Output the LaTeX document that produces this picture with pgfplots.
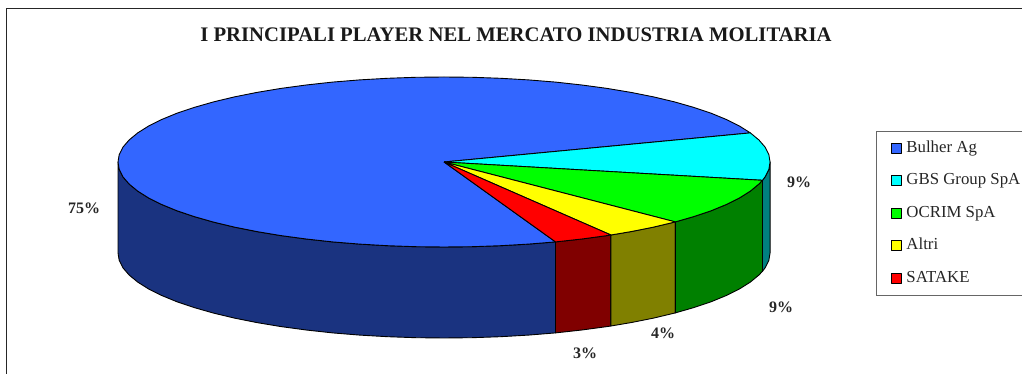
\documentclass[border=0pt]{standalone}
\usepackage{fontspec}
\setmainfont{Liberation Serif}
\usepackage{pgfplots}
\pgfplotsset{compat=1.18}
\definecolor{blueTop}{RGB}{51,102,255}
\definecolor{cyanTop}{RGB}{0,255,255}
\definecolor{greenTop}{RGB}{0,255,0}
\definecolor{yellowTop}{RGB}{255,255,0}
\definecolor{redTop}{RGB}{255,0,0}
\definecolor{blueWall}{RGB}{26,51,128}
\definecolor{cyanWall}{RGB}{0,128,128}
\definecolor{greenWall}{RGB}{0,128,0}
\definecolor{yellowWall}{RGB}{128,128,0}
\definecolor{redWall}{RGB}{128,0,0}
\pgfplotsset{slice/.style={draw=black, line width=0.9pt, line join=round, fill=#1}}
\tikzset{pct/.style={font=\fontsize{16}{18}\selectfont\bfseries, text=black!85}}
\begin{document}
\begin{tikzpicture}
\path[use as bounding box] (0,0) rectangle (1022pt,374pt);
\begin{axis}[
  at={(0,0)}, anchor=south west,
  width=1022pt, height=374pt, scale only axis,
  hide axis, clip=false,
  xmin=-444, xmax=578, ymin=-212, ymax=162,
  legend image code/.code={\draw[#1] (0pt,-5pt) rectangle (10pt,5pt); \path (0pt,0pt) (13pt,0pt);},
  legend cell align=left,
  legend style={at={(axis cs:432,31.3)}, anchor=north west, draw=black!60, line width=1pt,
    inner xsep=14pt, inner ysep=8pt, row sep=14pt, font=\fontsize{16.8}{19}\selectfont,
    nodes={text height=11pt, text depth=3.5pt, inner ysep=2pt, text=black!85}},
]
% Chart frame: only its top and left edges lie on the page
\addplot[forget plot, draw=black!85, line width=1.1pt] coordinates {(-437.5,-212) (-437.5,153.5) (578,153.5)};

% Outer walls of the pie, front half of the rim, seen from above
\addplot[forget plot, slice=blueWall] coordinates {
  (-326,0) (-324.8,-7.4) (-321.1,-14.8) (-314.9,-22) (-306.3,-29.1) (-295.5,-35.9) (-282.3,-42.5)
  (-267,-48.8) (-249.7,-54.6) (-230.5,-60.1) (-209.6,-65.1) (-187,-69.6) (-163,-73.6) (-137.8,-77)
  (-111.5,-79.9) (-84.4,-82.1) (-56.6,-83.7) (-28.4,-84.7) (0,-85) (28.4,-84.7) (56.6,-83.7)
  (84.4,-82.1) (111.5,-79.9)
  (111.5,-170.9) (84.4,-173.1) (56.6,-174.7) (28.4,-175.7) (0,-176) (-28.4,-175.7) (-56.6,-174.7)
  (-84.4,-173.1) (-111.5,-170.9) (-137.8,-168) (-163,-164.6) (-187,-160.6) (-209.6,-156.1)
  (-230.5,-151.1) (-249.7,-145.6) (-267,-139.8) (-282.3,-133.5) (-295.5,-126.9) (-306.3,-120.1)
  (-314.9,-113) (-321.1,-105.8) (-324.8,-98.4) (-326,-91) (-326,0)};
\addplot[forget plot, slice=redWall] coordinates {
  (111.5,-79.9) (137.8,-77) (163,-73.6) (166.9,-73)
  (166.9,-164) (163,-164.6) (137.8,-168) (111.5,-170.9) (111.5,-79.9)};
\addplot[forget plot, slice=yellowWall] coordinates {
  (166.9,-73) (187,-69.6) (209.6,-65.1) (231.3,-59.9)
  (231.3,-150.9) (209.6,-156.1) (187,-160.6) (166.9,-164) (166.9,-73)};
\addplot[forget plot, slice=greenWall] coordinates {
  (231.3,-59.9) (249.7,-54.6) (267,-48.8) (282.3,-42.5) (295.5,-35.9) (306.3,-29.1) (314.9,-22) (318.4,-18.3)
  (318.4,-109.3) (314.9,-113) (306.3,-120.1) (295.5,-126.9) (282.3,-133.5) (267,-139.8) (249.7,-145.6) (231.3,-150.9) (231.3,-59.9)};
\addplot[forget plot, slice=cyanWall] coordinates {
  (318.4,-18.3) (321.1,-14.8) (324.8,-7.4) (326,0)
  (326,-91) (324.8,-98.4) (321.1,-105.8) (318.4,-109.3) (318.4,-18.3)};

% Top faces: 75, 9, 9, 4 and 3 per cent of the turn, clockwise from 20 degrees
\addplot[slice=blueTop] coordinates {
  (0,0) (111.5,-79.9) (84.4,-82.1) (56.6,-83.7) (28.4,-84.7) (0,-85) (-28.4,-84.7) (-56.6,-83.7)
  (-84.4,-82.1) (-111.5,-79.9) (-137.8,-77) (-163,-73.6) (-187,-69.6) (-209.6,-65.1) (-230.5,-60.1)
  (-249.7,-54.6) (-267,-48.8) (-282.3,-42.5) (-295.5,-35.9) (-306.3,-29.1) (-314.9,-22) (-321.1,-14.8)
  (-324.8,-7.4) (-326,0) (-324.8,7.4) (-321.1,14.8) (-314.9,22) (-306.3,29.1) (-295.5,35.9) (-282.3,42.5)
  (-267,48.8) (-249.7,54.6) (-230.5,60.1) (-209.6,65.1) (-187,69.6) (-163,73.6) (-137.8,77) (-111.5,79.9)
  (-84.4,82.1) (-56.6,83.7) (-28.4,84.7) (0,85) (28.4,84.7) (56.6,83.7) (84.4,82.1) (111.5,79.9)
  (137.8,77) (163,73.6) (187,69.6) (209.6,65.1) (230.5,60.1) (249.7,54.6) (267,48.8) (282.3,42.5)
  (295.5,35.9) (306.3,29.1) (0,0)};
\addlegendentry{Bulher Ag}
\addplot[slice=cyanTop] coordinates {
  (0,0) (306.3,29.1) (314.9,22) (321.1,14.8) (324.8,7.4) (326,0) (324.8,-7.4) (321.1,-14.8) (318.4,-18.3) (0,0)};
\addlegendentry{GBS Group SpA}
\addplot[slice=greenTop] coordinates {
  (0,0) (318.4,-18.3) (314.9,-22) (306.3,-29.1) (295.5,-35.9) (282.3,-42.5) (267,-48.8) (249.7,-54.6) (231.3,-59.9) (0,0)};
\addlegendentry{OCRIM SpA}
\addplot[slice=yellowTop] coordinates {
  (0,0) (231.3,-59.9) (209.6,-65.1) (187,-69.6) (166.9,-73) (0,0)};
\addlegendentry{Altri}
\addplot[slice=redTop] coordinates {
  (0,0) (166.9,-73) (163,-73.6) (137.8,-77) (111.5,-79.9) (0,0)};
\addlegendentry{SATAKE}

% Title and percentage labels beside the slices
\node[font=\fontsize{20.7}{23}\selectfont\bfseries, text=black!90, inner sep=0pt] at (axis cs:72,127) {I PRINCIPALI PLAYER NEL MERCATO INDUSTRIA MOLITARIA};
\node[pct] at (axis cs:-360,-46) {75\%};
\node[pct] at (axis cs:355,-20) {9\%};
\node[pct] at (axis cs:337,-145) {9\%};
\node[pct] at (axis cs:219,-171) {4\%};
\node[pct] at (axis cs:141,-191) {3\%};
\end{axis}
\end{tikzpicture}
\end{document}
